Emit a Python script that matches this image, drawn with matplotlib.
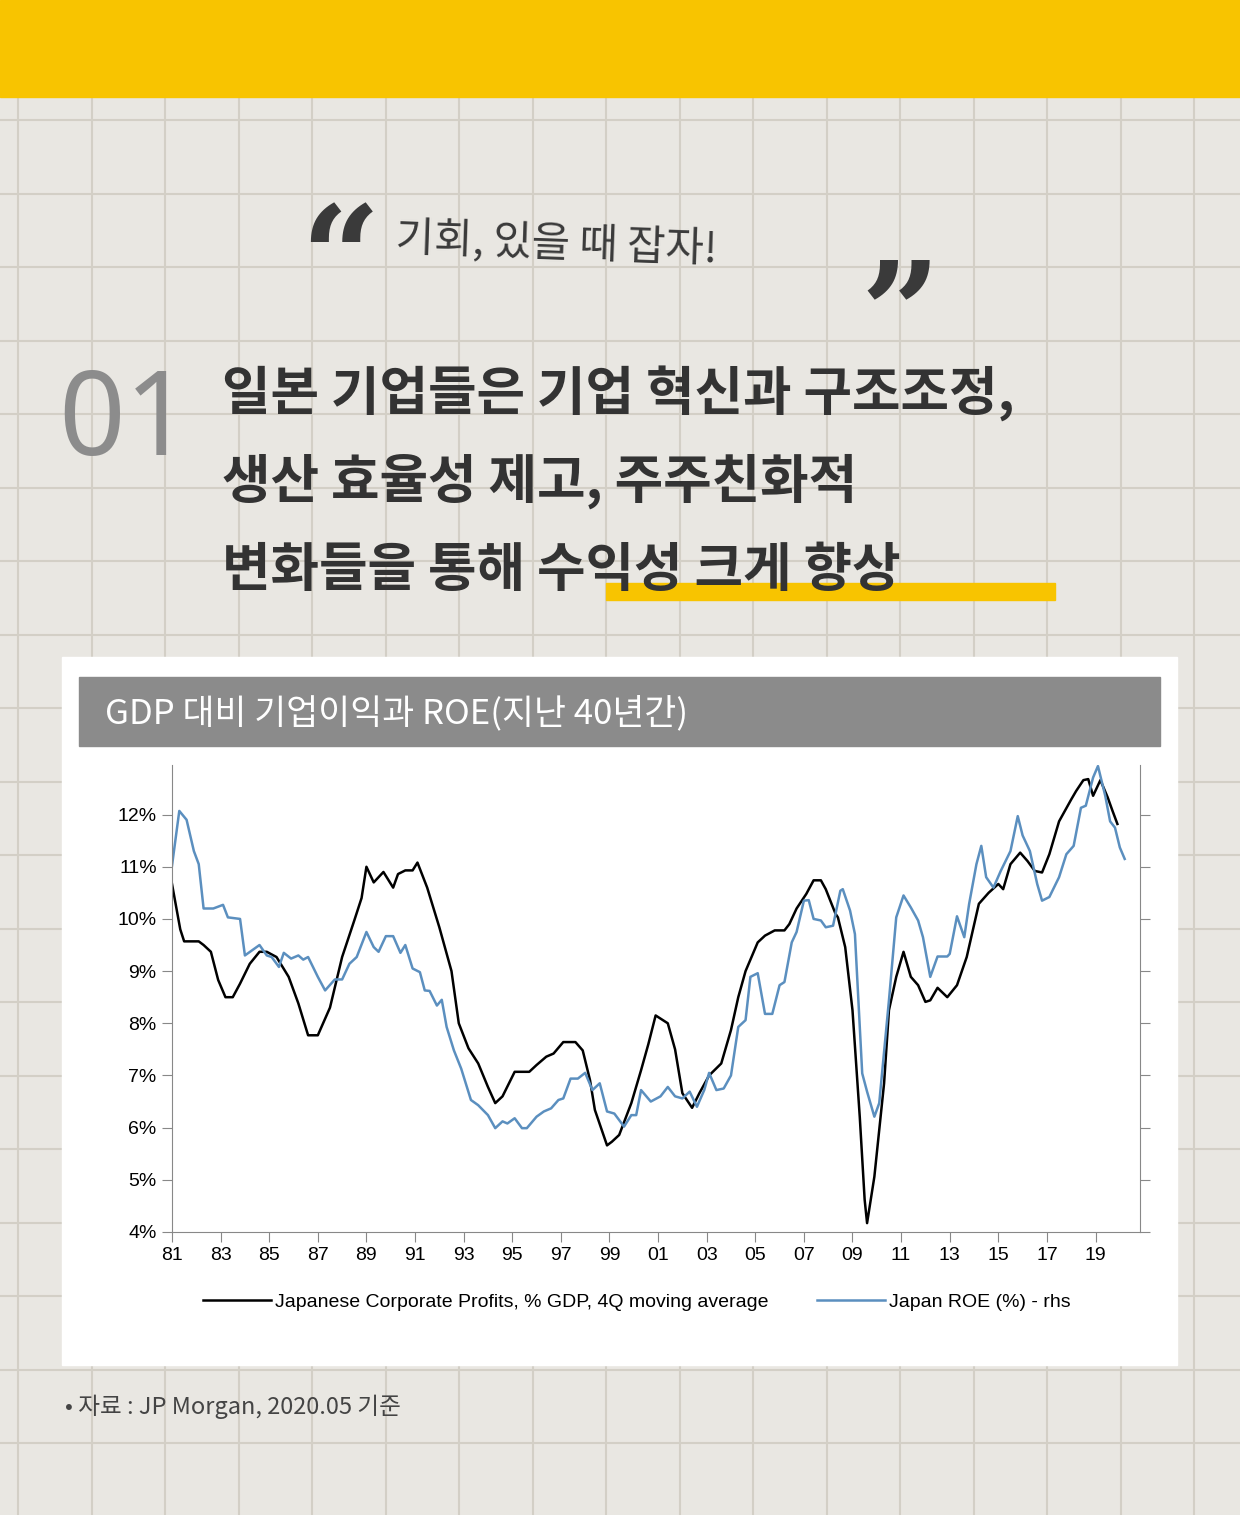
import numpy as np
import matplotlib.pyplot as plt
from matplotlib.patches import Rectangle
from matplotlib.lines import Line2D

plt.rcParams['font.family'] = ['Noto Sans CJK JP', 'Noto Sans CJK KR', 'DejaVu Sans']

# 기업이익 (% GDP, 4Q 이동평균) - 연도(81=1981), 값
profit_year = [81.0, 81.34, 81.5, 82.1, 82.3, 82.6, 82.9, 83.2, 83.5, 83.8, 84.2, 84.6, 84.9, 85.3, 85.8,
               86.2, 86.6, 87.0, 87.5, 88.0, 88.5, 88.8, 89.0, 89.3, 89.7, 90.1, 90.3, 90.6, 90.9, 91.1,
               91.5, 92.0, 92.5, 92.8, 93.2, 93.6, 94.0, 94.3, 94.6, 95.1, 95.7, 96.0, 96.4, 96.7, 97.1,
               97.6, 97.9, 98.2, 98.4, 98.9, 99.1, 99.4, 99.9, 100.3, 100.6, 100.9, 101.4, 101.7, 102.0,
               102.4, 102.7, 103.1, 103.6, 104.0, 104.3, 104.6, 105.1, 105.4, 105.8, 106.2, 106.4, 106.7,
               107.1, 107.4, 107.7, 107.9, 108.3, 108.4, 108.7, 109.0, 109.3, 109.5, 109.6, 109.9, 110.3,
               110.5, 110.8, 111.1, 111.4, 111.7, 112.0, 112.2, 112.5, 112.9, 113.3, 113.7, 114.2, 114.6,
               115.0, 115.2, 115.5, 115.9, 116.2, 116.5, 116.8, 117.1, 117.5, 118.0, 118.2, 118.5, 118.7,
               118.9, 119.2, 119.5, 119.7, 119.9]
profit_val = [10.67, 9.8, 9.57, 9.57, 9.5, 9.37, 8.83, 8.5, 8.5, 8.76, 9.14, 9.37, 9.37, 9.27, 8.89,
              8.38, 7.77, 7.77, 8.3, 9.27, 9.97, 10.4, 11.0, 10.7, 10.9, 10.6, 10.86, 10.93, 10.93, 11.08,
              10.6, 9.84, 9.0, 8.0, 7.52, 7.23, 6.78, 6.47, 6.6, 7.07, 7.07, 7.2, 7.36, 7.42, 7.64,
              7.64, 7.48, 6.91, 6.34, 5.66, 5.73, 5.86, 6.47, 7.1, 7.6, 8.15, 8.0, 7.5, 6.66,
              6.38, 6.66, 7.0, 7.23, 7.87, 8.5, 9.0, 9.55, 9.68, 9.78, 9.78, 9.9, 10.2,
              10.48, 10.74, 10.74, 10.57, 10.1, 10.03, 9.46, 8.25, 6.2, 4.62, 4.17, 5.06, 6.85,
              8.25, 8.89, 9.37, 8.89, 8.73, 8.41, 8.44, 8.68, 8.5, 8.73, 9.27, 10.29, 10.5,
              10.67, 10.57, 11.05, 11.27, 11.11, 10.92, 10.89, 11.24, 11.87, 12.29, 12.45, 12.66, 12.68,
              12.36, 12.66, 12.33, 12.07, 11.82]

# 일본 ROE (%) - rhs
roe_year = [81.0, 81.3, 81.6, 81.9, 82.1, 82.3, 82.7, 83.1, 83.3, 83.8, 84.0, 84.6, 84.9, 85.1, 85.4,
            85.6, 85.9, 86.2, 86.4, 86.6, 87.0, 87.3, 87.7, 88.0, 88.3, 88.6, 89.0, 89.3, 89.5, 89.8,
            90.1, 90.4, 90.6, 90.9, 91.2, 91.4, 91.6, 91.9, 92.1, 92.3, 92.6, 92.9, 93.3, 93.6, 94.0,
            94.3, 94.6, 94.8, 95.1, 95.4, 95.6, 96.0, 96.3, 96.6, 96.9, 97.1, 97.4, 97.7, 98.0, 98.3,
            98.6, 98.9, 99.2, 99.6, 99.9, 100.1, 100.3, 100.7, 101.1, 101.4, 101.7, 102.0, 102.3, 102.6,
            102.9, 103.1, 103.4, 103.7, 104.0, 104.3, 104.6, 104.8, 105.1, 105.4, 105.7, 106.0, 106.2,
            106.5, 106.7, 107.0, 107.2, 107.4, 107.7, 107.9, 108.2, 108.5, 108.6, 108.9, 109.1, 109.4,
            109.6, 109.9, 110.1, 110.5, 110.8, 111.1, 111.4, 111.7, 111.9, 112.2, 112.5, 112.9, 113.0,
            113.3, 113.6, 113.8, 114.1, 114.3, 114.5, 114.8, 115.1, 115.5, 115.8, 116.0, 116.3, 116.6,
            116.8, 117.1, 117.5, 117.8, 118.1, 118.4, 118.6, 118.9, 119.1, 119.4, 119.6, 119.8, 120.0,
            120.2]
roe_val = [11.02, 12.07, 11.9, 11.3, 11.05, 10.2, 10.2, 10.27, 10.03, 10.0, 9.3, 9.5, 9.3, 9.27, 9.08,
           9.35, 9.24, 9.3, 9.22, 9.27, 8.89, 8.63, 8.84, 8.84, 9.14, 9.27, 9.75, 9.46, 9.37, 9.67,
           9.67, 9.35, 9.5, 9.05, 8.98, 8.63, 8.62, 8.34, 8.45, 7.93, 7.48, 7.13, 6.53, 6.43, 6.24,
           5.99, 6.12, 6.08, 6.18, 5.99, 5.99, 6.21, 6.31, 6.37, 6.53, 6.56, 6.94, 6.94, 7.05, 6.72,
           6.85, 6.31, 6.27, 6.02, 6.24, 6.24, 6.72, 6.5, 6.6, 6.78, 6.6, 6.56, 6.69, 6.4,
           6.72, 7.05, 6.72, 6.75, 7.0, 7.93, 8.06, 8.89, 8.96, 8.18, 8.18, 8.73, 8.79,
           9.55, 9.75, 10.35, 10.36, 10.0, 9.97, 9.84, 9.87, 10.54, 10.57, 10.16, 9.71, 7.04,
           6.69, 6.21, 6.47, 8.44, 10.03, 10.45, 10.22, 9.97, 9.65, 8.89, 9.28, 9.28, 9.33,
           10.05, 9.65, 10.29, 11.05, 11.4, 10.8, 10.6, 10.92, 11.3, 11.97, 11.6, 11.3, 10.67,
           10.35, 10.42, 10.8, 11.24, 11.4, 12.13, 12.17, 12.71, 12.93, 12.36, 11.87, 11.75, 11.37,
           11.15]

tick_years = list(range(81, 120, 2))
tick_labels = [f"{y % 100:02d}" for y in tick_years]
pct_ticks = list(range(4, 13))

W, H = 1240, 1515
fig = plt.figure(figsize=(W / 100, H / 100), dpi=100)
fig.patch.set_facecolor('#e9e7e2')

bg = fig.add_axes([0, 0, 1, 1])
bg.set_xlim(0, W)
bg.set_ylim(H, 0)
bg.axis('off')

# 모눈 배경
for gx in np.arange(18, W, 73.5):
    bg.axvline(gx, color='#d3cfc6', lw=1.5, zorder=0)
for gy in np.arange(120, H, 73.5):
    bg.axhline(gy, color='#d3cfc6', lw=1.5, zorder=0)

bg.add_patch(Rectangle((0, 0), W, 97, color='#f8c400', zorder=1))

# 인용구
bg.text(300, 305, '\u201c', fontsize=100, fontweight='bold', color='#3a3a3a', fontfamily='DejaVu Serif', va='baseline')
bg.text(395, 262, '기회, 있을 때 잡자!', fontsize=30, color='#3a3a3a', va='baseline', rotation=-2)
bg.text(860, 360, '\u201d', fontsize=100, fontweight='bold', color='#3a3a3a', fontfamily='DejaVu Serif', va='baseline')

# 헤드라인
bg.text(58, 455, '01', fontsize=84, color='#8c8c8c', fontweight='light', fontfamily='Noto Sans', va='baseline')
bg.add_patch(Rectangle((606, 583), 449, 17, color='#f8c400', zorder=2))
lines = ['일본 기업들은 기업 혁신과 구조조정,', '생산 효율성 제고, 주주친화적', '변화들을 통해 수익성 크게 향상']
for i, t in enumerate(lines):
    bg.text(222, 410 + i * 88, t, fontsize=38, fontweight='bold', color='#333333', va='baseline', zorder=3)

# 차트 패널
bg.add_patch(Rectangle((62, 657), 1115, 708, color='white', zorder=1))
bg.add_patch(Rectangle((79, 677), 1081, 69, color='#8b8b8b', zorder=2))
bg.text(105, 713, 'GDP 대비 기업이익과 ROE(지난 40년간)', fontsize=25, color='white', va='center', zorder=3)

bg.text(65, 1407, '• 자료 : JP Morgan, 2020.05 기준', fontsize=17, color='#444444', va='center')

tick_font = 'Liberation Sans'
ax = fig.add_axes([172 / W, 1 - 1232 / H, 968 / W, 467 / H])
ax.set_facecolor('white')
ax.plot(profit_year, profit_val, color='black', lw=1.8)
ax.plot(roe_year, roe_val, color='#5b8fbf', lw=1.8)
ax.set_xlim(81, 120.83)
ax.set_ylim(4, 12.95)
ax.set_xticks(tick_years)
ax.set_xticklabels(tick_labels, fontsize=14, fontfamily=tick_font)
ax.set_yticks(pct_ticks)
ax.set_yticklabels([f"{v}%" for v in pct_ticks], fontsize=14, fontfamily=tick_font)
ax.spines['top'].set_visible(False)
for s in ['left', 'right', 'bottom']:
    ax.spines[s].set_color('#888888')
ax.tick_params(axis='both', color='#888888', length=7, direction='out', pad=4)
ax.tick_params(axis='y', right=True)

handles = [Line2D([], [], color='black', lw=1.8), Line2D([], [], color='#5b8fbf', lw=1.8)]
fig.legend(handles, ['Japanese Corporate Profits, % GDP, 4Q moving average', 'Japan ROE (%) - rhs'],
           loc='center', bbox_to_anchor=(637 / W, 1 - 1302 / H), ncol=2, frameon=False,
           prop={'family': tick_font, 'size': 14}, handlelength=3.5, handletextpad=0.2, columnspacing=2.5)

fig.savefig('out.png', dpi=100, facecolor=fig.get_facecolor())
